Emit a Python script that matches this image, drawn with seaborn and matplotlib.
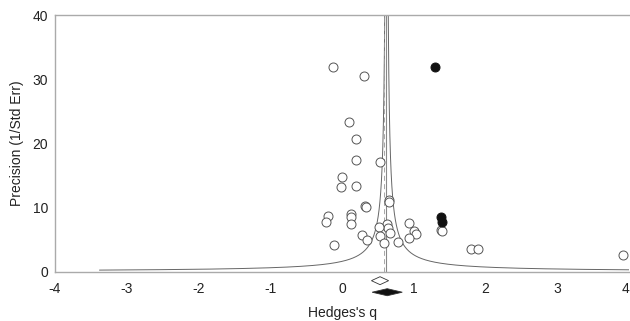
import numpy as np
import pandas as pd
import matplotlib
matplotlib.use("Agg")
import matplotlib.pyplot as plt
import seaborn as sns

# Observed studies (Hedges's g, precision)
obs_g = [-0.125, 0.305, 0.10, 0.20, 0.19, 0.53, 0.005, -0.02, 0.19, 0.65, 0.66,
         0.32, 0.33, -0.195, -0.22, 0.12, 0.13, 0.13, 1.38, 1.40, 0.63, 0.64,
         0.67, 0.52, 0.53, 0.93, 1.01, 1.03, 0.94, 0.28, 0.35, 0.58, 0.78,
         -0.115, 1.80, 1.90, 3.91]
obs_p = [31.9, 30.6, 23.3, 20.7, 17.5, 17.1, 14.7, 13.2, 13.4, 11.2, 10.8,
         10.3, 10.1, 8.7, 7.8, 9.0, 8.6, 7.5, 6.5, 6.3, 7.4, 6.8,
         6.1, 7.0, 5.6, 7.6, 6.4, 5.9, 5.2, 5.8, 4.9, 4.4, 4.7,
         4.1, 3.6, 3.5, 2.6]

# Imputed (trim-and-fill) studies
imp_g = [1.30, 1.38, 1.39]
imp_p = [31.9, 8.6, 7.8]

# Summary estimates: observed and adjusted (centre, CI half-width)
summary_labels = ["observed", "adjusted"]
summary_mean = [0.53, 0.63]
summary_half = [0.12, 0.21]

funnel_mean = 0.62
funnel_c = 1.0

x_ticks = [-4, -3, -2, -1, 0, 1, 2, 3, 4]
y_ticks = [0, 10, 20, 30, 40]

sns.set_theme(style="white")
plt.rcParams['font.family'] = ['Liberation Sans', 'DejaVu Sans']

fig = plt.figure(figsize=(6.30, 3.21), dpi=100)
ax = fig.add_axes([55/630, 49.3/321, (629-55)/630, (271.7-15.3)/321])

# funnel
yy = np.linspace(0.25, 45, 2000)
fdf = pd.DataFrame({"p": np.concatenate([yy, yy]),
                    "g": np.concatenate([funnel_mean - funnel_c/yy, funnel_mean + funnel_c/yy]),
                    "side": ["L"]*len(yy) + ["R"]*len(yy)})
for side, d in fdf.groupby("side"):
    ax.plot(d["g"], d["p"], color="#666666", lw=0.7, zorder=1)
ax.axvline(funnel_mean, color="#888888", lw=0.8, zorder=1)
ax.axvline(funnel_mean - 0.03, color="#999999", lw=0.6, ls=(0, (6, 4)), zorder=1)

df_obs = pd.DataFrame({"g": obs_g, "p": obs_p})
df_imp = pd.DataFrame({"g": imp_g, "p": imp_p})
sns.scatterplot(data=df_obs, x="g", y="p", ax=ax, s=42, facecolor="white",
                edgecolor="#555555", linewidth=0.7, zorder=3, clip_on=False)
sns.scatterplot(data=df_imp, x="g", y="p", ax=ax, s=42, color="#111111",
                edgecolor="#111111", linewidth=0.7, zorder=4)

# summary diamonds below the axis
ys = [-1.4, -3.2]
hh = [0.62, 0.55]
fills = ["white", "#111111"]
for m, h, y, dh, fc in zip(summary_mean, summary_half, ys, hh, fills):
    poly = plt.Polygon([[m - h, y], [m, y + dh], [m + h, y], [m, y - dh]],
                       closed=True, facecolor=fc, edgecolor="#333333", lw=0.6,
                       clip_on=False, zorder=5)
    ax.add_patch(poly)

ax.set_xlim(-4, 4)
ax.set_ylim(0, 40)
ax.set_xticks(x_ticks)
ax.set_xticklabels([str(t) for t in x_ticks])
ax.set_yticks(y_ticks)
ax.set_yticklabels([str(t) for t in y_ticks])
ax.tick_params(axis="both", labelsize=10, length=3, width=0.6, color="#777777",
               colors="#222222", direction="inout", pad=6)
ax.tick_params(axis="y", direction="out", pad=2)
ax.get_xticklabels()[-1].set_horizontalalignment("right")
for s in ["left", "bottom", "top"]:
    ax.spines[s].set_color("#aaaaaa")
    ax.spines[s].set_linewidth(1.0)
ax.spines["right"].set_visible(False)
ax.set_xlabel("Hedges's q", fontsize=10, color="#222222", labelpad=7)
ax.set_ylabel("Precision (1/Std Err)", fontsize=10, color="#222222", labelpad=6)

fig.savefig("out.png", dpi=100)
